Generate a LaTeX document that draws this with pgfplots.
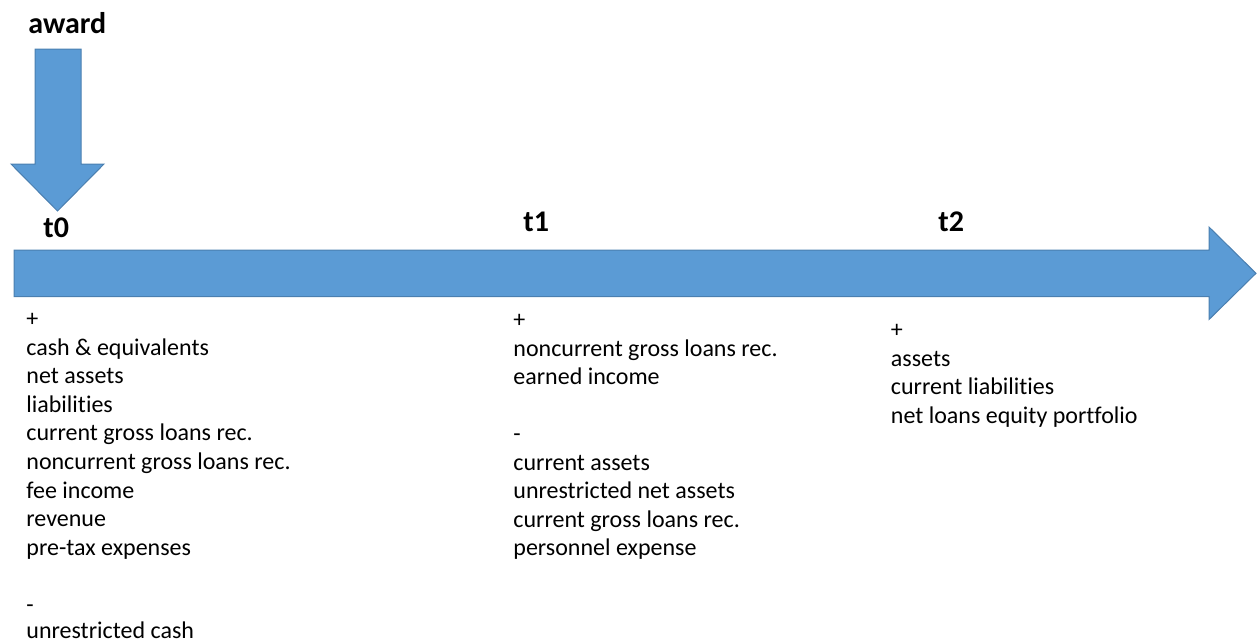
\documentclass[border=0pt]{standalone}
\usepackage{fontspec}
\setmainfont{Carlito}[Ligatures=NoCommon]
\usepackage{pgfplots}
\pgfplotsset{compat=1.18}

\definecolor{shapefill}{HTML}{5B9BD5}
\definecolor{shapeedge}{HTML}{4A7FB0}

% one line of body text, placed on its baseline (pixel coordinates, y downwards)
\newcommand{\txt}[3]{\node[anchor=base west, inner sep=0pt, font=\fontsize{12}{14}\selectfont] at (axis cs:#1,#2) {#3};}
\newcommand{\lbl}[3]{\node[anchor=base west, inner sep=0pt, font=\fontsize{15}{17}\selectfont\bfseries] at (axis cs:#1,#2) {#3};}

\begin{document}
\begin{tikzpicture}
\begin{axis}[
  scale only axis,
  width=629pt, height=321.5pt,
  xmin=0, xmax=1258, ymin=0, ymax=643,
  y dir=reverse,
  hide axis,
  clip=false,
]
% down arrow (award)
\addplot[fill=shapefill, draw=shapeedge, line width=0.5pt, line join=miter]
  coordinates {(35,49) (81,49) (81,164) (104,164) (57.5,211) (11,164) (35,164) (35,49)} -- cycle;
% time line arrow
\addplot[fill=shapefill, draw=shapeedge, line width=0.5pt, line join=miter]
  coordinates {(14,250) (1209,250) (1209,227) (1256,273.3) (1209,319.5) (1209,296.5) (14,296.5) (14,250)} -- cycle;

\lbl{28}{33}{award}
\lbl{43}{237}{t0}
\lbl{523}{231.7}{t1}
\lbl{938}{231.7}{t2}

% t0 column
\txt{26}{326.5}{+}
\txt{26}{355}{cash \& equivalents}
\txt{26}{383.6}{net assets}
\txt{26}{412.2}{liabilities}
\txt{26}{440.8}{current gross loans rec.}
\txt{26}{469.4}{noncurrent gross loans rec.}
\txt{26}{498}{fee income}
\txt{26}{526.6}{revenue}
\txt{26}{555.2}{pre-tax expenses}
\txt{26}{612.2}{-}
\txt{26}{638.5}{unrestricted cash}

% t1 column
\txt{513}{327.5}{+}
\txt{513}{356}{noncurrent gross loans rec.}
\txt{513}{384.5}{earned income}
\txt{513}{441.5}{-}
\txt{513}{470}{current assets}
\txt{513}{498.5}{unrestricted net assets}
\txt{513}{527}{current gross loans rec.}
\txt{513}{555.5}{personnel expense}

% t2 column
\txt{890.5}{337.5}{+}
\txt{890.5}{366}{assets}
\txt{890.5}{394.5}{current liabilities}
\txt{890.5}{423}{net loans equity portfolio}
\end{axis}
\pgfresetboundingbox
\useasboundingbox (current axis.south west) rectangle (current axis.north east);
\end{tikzpicture}
\end{document}
